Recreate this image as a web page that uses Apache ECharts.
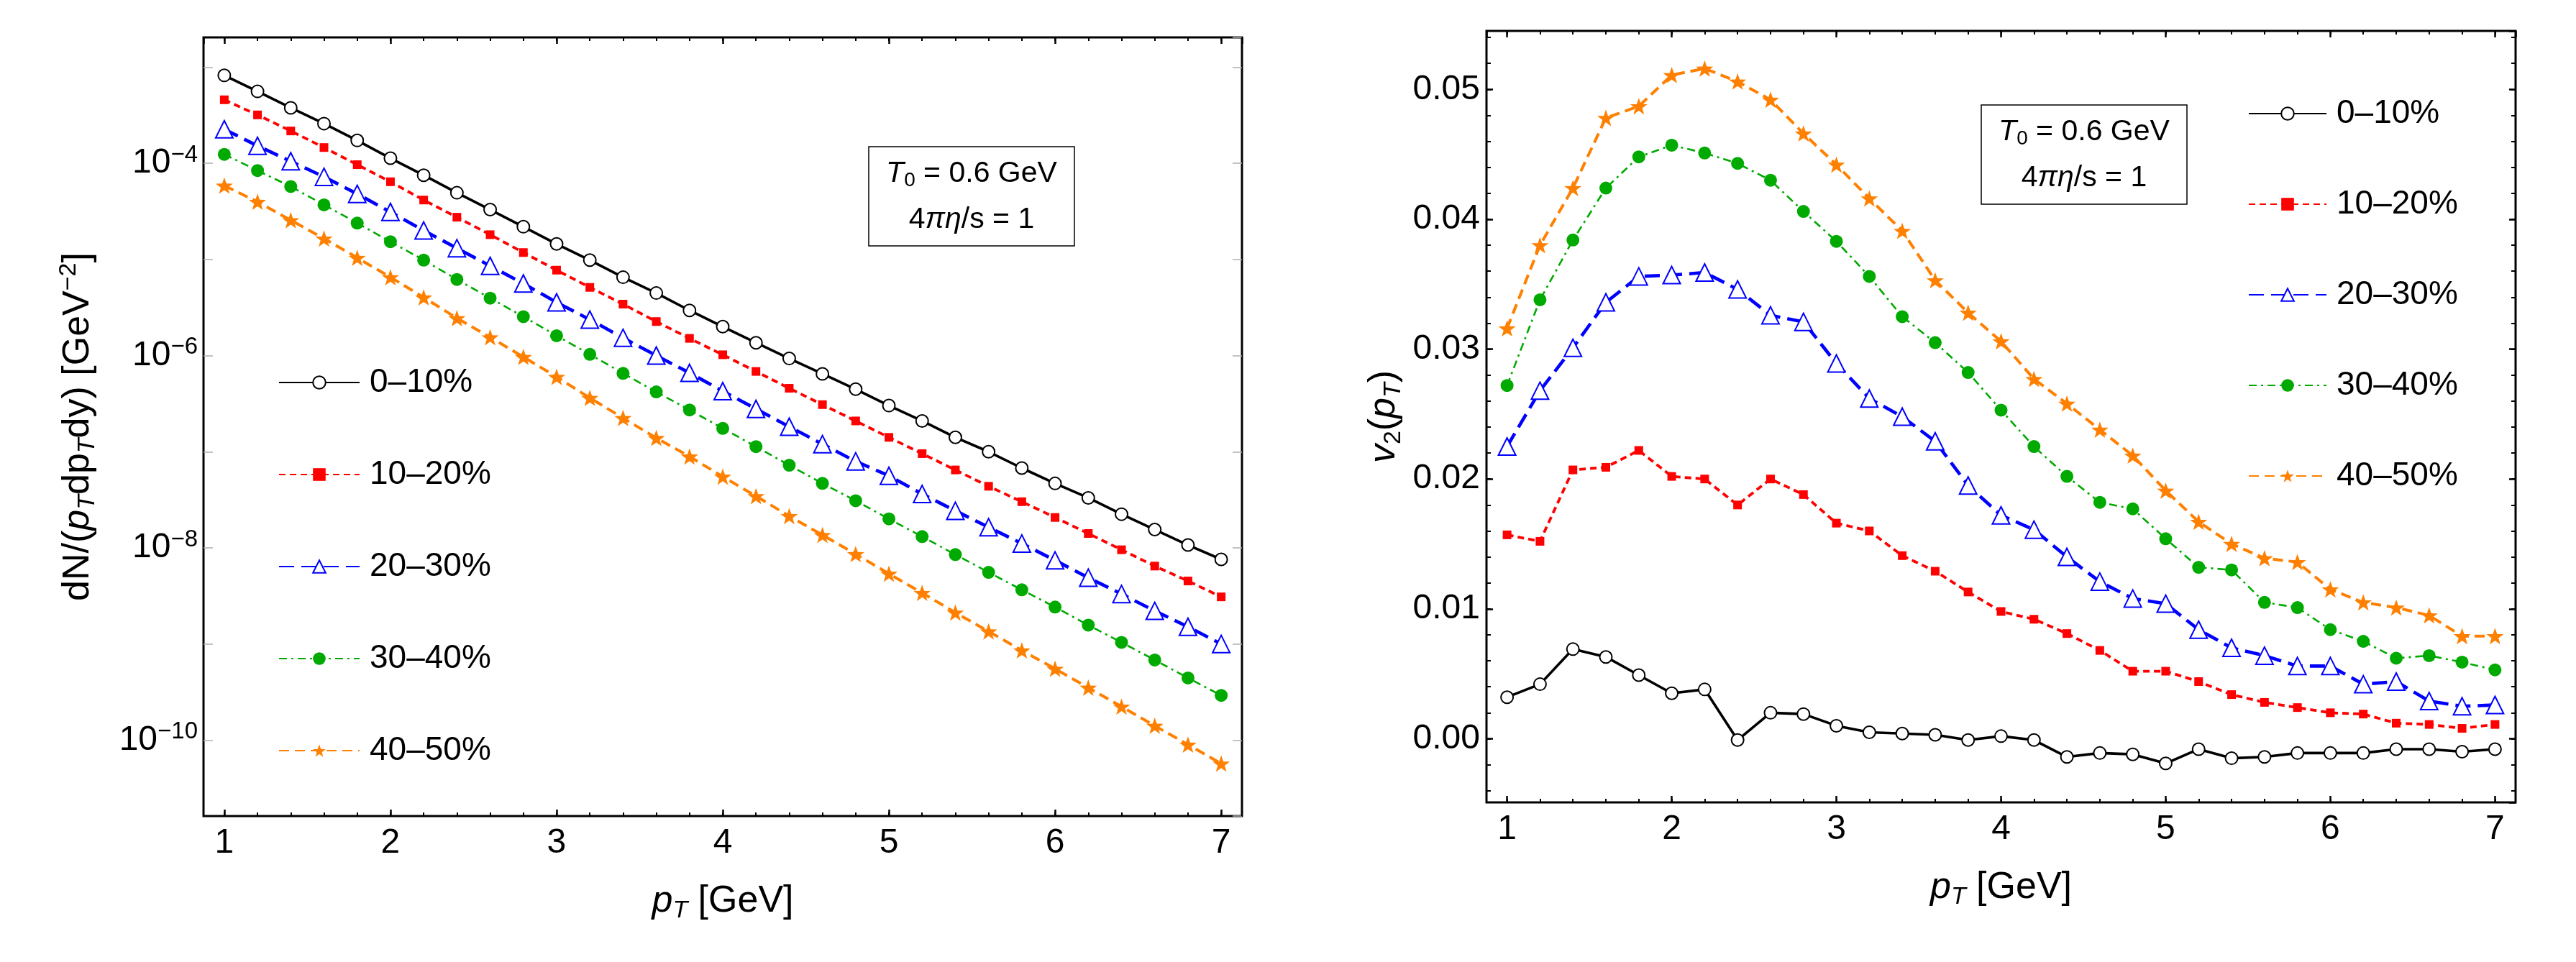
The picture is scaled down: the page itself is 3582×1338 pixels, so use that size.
<!DOCTYPE html>
<html>
<head>
<meta charset="utf-8">
<script src="https://cdn.jsdelivr.net/npm/echarts@6/dist/echarts.min.js"></script>
<style>
  html, body { margin: 0; padding: 0; background: #fff; }
  #chart { width: 3582px; height: 1338px; }
</style>
</head>
<body>
<div id="chart"></div>
<script>
const pT = [1.0, 1.2, 1.4, 1.6, 1.8, 2.0, 2.2, 2.4, 2.6, 2.8, 3.0, 3.2, 3.4, 3.6, 3.8, 4.0,
  4.2, 4.4, 4.6, 4.8, 5.0, 5.2, 5.4, 5.6, 5.8, 6.0, 6.2, 6.4, 6.6, 6.8, 7.0]

const centralities = ['0–10%', '10–20%', '20–30%', '30–40%', '40–50%']

// dN/(pT dpT dy) [GeV^-2]
const spec0_10 = [8.22e-4, 5.60e-4, 3.78e-4, 2.59e-4, 1.73e-4, 1.13e-4, 7.52e-5, 4.94e-5, 3.30e-5, 2.19e-5,
  1.45e-5, 9.84e-6, 6.53e-6, 4.47e-6, 2.95e-6, 2.00e-6, 1.36e-6, 9.33e-7, 6.46e-7, 4.47e-7,
  3.02e-7, 2.09e-7, 1.41e-7, 1.00e-7, 6.76e-8, 4.68e-8, 3.31e-8, 2.24e-8, 1.55e-8, 1.07e-8, 7.59e-9]
const spec10_20 = [4.58e-4, 3.19e-4, 2.17e-4, 1.46e-4, 9.68e-5, 6.43e-5, 4.15e-5, 2.75e-5, 1.81e-5, 1.18e-5,
  7.74e-6, 5.12e-6, 3.43e-6, 2.26e-6, 1.51e-6, 1.02e-6, 6.84e-7, 4.57e-7, 3.09e-7, 2.09e-7,
  1.41e-7, 9.55e-8, 6.46e-8, 4.37e-8, 3.02e-8, 2.07e-8, 1.41e-8, 9.55e-9, 6.46e-9, 4.52e-9, 3.09e-9]
const spec20_30 = [2.26e-4, 1.52e-4, 1.05e-4, 7.24e-5, 4.81e-5, 3.12e-5, 2.00e-5, 1.31e-5, 8.57e-6, 5.62e-6,
  3.58e-6, 2.37e-6, 1.53e-6, 1.00e-6, 6.61e-7, 4.27e-7, 2.79e-7, 1.82e-7, 1.20e-7, 7.94e-8,
  5.62e-8, 3.63e-8, 2.43e-8, 1.64e-8, 1.11e-8, 7.41e-9, 4.90e-9, 3.31e-9, 2.21e-9, 1.51e-9, 1.00e-9]
const spec30_40 = [1.24e-4, 8.41e-5, 5.73e-5, 3.70e-5, 2.39e-5, 1.53e-5, 9.84e-6, 6.19e-6, 3.96e-6, 2.54e-6,
  1.61e-6, 1.03e-6, 6.53e-7, 4.19e-7, 2.72e-7, 1.75e-7, 1.13e-7, 7.24e-8, 4.68e-8, 3.09e-8,
  2.00e-8, 1.31e-8, 8.51e-9, 5.56e-9, 3.66e-9, 2.42e-9, 1.57e-9, 1.04e-9, 6.82e-10, 4.43e-10, 2.92e-10]
const spec40_50 = [5.86e-5, 3.98e-5, 2.56e-5, 1.65e-5, 1.04e-5, 6.53e-6, 4.03e-6, 2.45e-6, 1.55e-6, 9.68e-7,
  6.00e-7, 3.63e-7, 2.24e-7, 1.39e-7, 8.91e-8, 5.50e-8, 3.45e-8, 2.14e-8, 1.36e-8, 8.61e-9,
  5.38e-9, 3.40e-9, 2.12e-9, 1.35e-9, 8.57e-10, 5.52e-10, 3.51e-10, 2.23e-10, 1.41e-10, 8.97e-11, 5.70e-11]

// v2(pT)
const v2_0_10 = [0.0032, 0.0042, 0.0069, 0.0063, 0.0049, 0.0035, 0.0038, -0.0001, 0.0020, 0.0019,
  0.0010, 0.0005, 0.0004, 0.0003, -0.0001, 0.0002, -0.0001, -0.0014, -0.0011, -0.0012,
  -0.0019, -0.0008, -0.0015, -0.0014, -0.0011, -0.0011, -0.0011, -0.0008, -0.0008, -0.0010, -0.0008]
const v2_10_20 = [0.0157, 0.0152, 0.0207, 0.0209, 0.0222, 0.0202, 0.0200, 0.0180, 0.0200, 0.0188,
  0.0166, 0.0160, 0.0141, 0.0129, 0.0113, 0.0098, 0.0092, 0.0081, 0.0068, 0.0052,
  0.0052, 0.0044, 0.0034, 0.0028, 0.0024, 0.0020, 0.0019, 0.0012, 0.0011, 0.0008, 0.0011]
const v2_20_30 = [0.0225, 0.0268, 0.0301, 0.0336, 0.0356, 0.0357, 0.0359, 0.0346, 0.0326, 0.0321,
  0.0289, 0.0262, 0.0248, 0.0229, 0.0195, 0.0172, 0.0161, 0.0140, 0.0121, 0.0108,
  0.0104, 0.0084, 0.0070, 0.0064, 0.0056, 0.0056, 0.0042, 0.0044, 0.0029, 0.0025, 0.0026]
const v2_30_40 = [0.0272, 0.0338, 0.0384, 0.0424, 0.0448, 0.0457, 0.0451, 0.0443, 0.0430, 0.0406,
  0.0383, 0.0356, 0.0325, 0.0305, 0.0282, 0.0253, 0.0225, 0.0202, 0.0182, 0.0177,
  0.0154, 0.0132, 0.0130, 0.0105, 0.0101, 0.0084, 0.0075, 0.0062, 0.0064, 0.0059, 0.0053]
const v2_40_50 = [0.0316, 0.0380, 0.0424, 0.0478, 0.0487, 0.0511, 0.0516, 0.0506, 0.0492, 0.0466,
  0.0442, 0.0416, 0.0391, 0.0353, 0.0328, 0.0306, 0.0277, 0.0258, 0.0238, 0.0218,
  0.0191, 0.0167, 0.0150, 0.0139, 0.0136, 0.0115, 0.0105, 0.0101, 0.0095, 0.0079, 0.0079]

const spectra = [spec0_10, spec10_20, spec20_30, spec30_40, spec40_50]
const flows = [v2_0_10, v2_10_20, v2_20_30, v2_30_40, v2_40_50]

const FONT = 'Liberation Sans, Arial, sans-serif'
const STAR = 'path://M50,0L61.76,33.82L97.55,34.55L69.02,56.18L79.39,90.45L50,70L20.61,90.45L30.98,56.18L2.45,34.55L38.24,33.82Z'

const looks = [
  { color: '#000000', symbol: 'emptyCircle', size: 17, border: 1.5, width: 3.6, dash: 'solid' },
  { color: '#ff0000', symbol: 'rect', size: 12, border: 0, width: 3.8, dash: [9, 6] },
  { color: '#0000ff', symbol: 'emptyTriangle', size: 24, border: 2.6, width: 4.6, dash: [21, 10] },
  { color: '#00aa00', symbol: 'circle', size: 18, border: 0, width: 2.6, dash: [11, 6, 3, 6] },
  { color: '#ff8000', symbol: STAR, size: 24, border: 0, width: 4, dash: [14, 8] }
]

const makeSeries = (values, i, xIdx, yIdx) => {
  const s = looks[i]
  return {
    type: 'line',
    name: centralities[i],
    xAxisIndex: xIdx,
    yAxisIndex: yIdx,
    data: pT.map((x, k) => [x, values[k]]),
    symbol: s.symbol,
    symbolSize: s.size,
    symbolKeepAspect: true,
    showAllSymbol: true,
    lineStyle: { color: s.color, width: s.width, type: s.dash },
    itemStyle: { color: s.color, borderColor: s.color, borderWidth: s.border },
    emphasis: { disabled: true },
    z: 2 + i
  }
}

const titleStyle = {
  fontSize: 52, fontFamily: FONT, color: '#000', lineHeight: 60,
  rich: {
    i: { fontSize: 52, fontFamily: FONT, fontStyle: 'italic', lineHeight: 60 },
    sub: { fontSize: 34, fontFamily: FONT, fontStyle: 'italic', lineHeight: 34, verticalAlign: 'bottom' },
    subr: { fontSize: 34, fontFamily: FONT, lineHeight: 34, verticalAlign: 'bottom' },
    sup: { fontSize: 34, fontFamily: FONT, lineHeight: 34, verticalAlign: 'top' }
  }
}

const X_MIN = 0.875
const X_MAX = 7.125
const noLine = { show: false, onZero: false }

// four x axes per panel: bottom/top, major/minor ticks
const xAxesFor = (grid) => {
  const base = {
    type: 'value', gridIndex: grid, min: X_MIN, max: X_MAX,
    axisLine: noLine, splitLine: { show: false }
  }
  const major = { inside: true, length: 9, lineStyle: { color: '#000', width: 2.5 } }
  const minor = { inside: true, length: 5, lineStyle: { color: '#000', width: 2 } }
  return [
    {
      ...base, position: 'bottom', axisTick: major,
      axisLabel: { fontSize: 48, fontFamily: FONT, color: '#000', margin: 14, showMinLabel: false, showMaxLabel: false },
      name: '{i|p}{sub|T} [GeV]', nameLocation: 'middle', nameGap: 89, nameTextStyle: titleStyle
    },
    { ...base, position: 'bottom', splitNumber: 30, axisTick: minor, axisLabel: { show: false } },
    { ...base, position: 'top', axisTick: major, axisLabel: { show: false } },
    { ...base, position: 'top', splitNumber: 30, axisTick: minor, axisLabel: { show: false } }
  ]
}

const LOG_MIN = Math.pow(10, -10.79)
const LOG_MAX = Math.pow(10, -2.69)
const logBase = {
  type: 'log', gridIndex: 0, min: LOG_MIN, max: LOG_MAX,
  axisLine: noLine, splitLine: { show: false },
  axisTick: { inside: true, length: 13, lineStyle: { color: '#b0b0b0', width: 1.5 } }
}

const V_MIN = -0.0049
const V_MAX = 0.0545
const vBase = {
  type: 'value', gridIndex: 1, min: V_MIN, max: V_MAX,
  axisLine: noLine, splitLine: { show: false }
}
const vMajor = { inside: true, length: 9, lineStyle: { color: '#000', width: 2.5 } }
const vMinor = { inside: true, length: 6, lineStyle: { color: '#000', width: 2 } }

const legendFor = (left, top, width, gap) => ({
  orient: 'vertical', left, top, padding: 0,
  itemWidth: width, itemHeight: 22, itemGap: gap,
  selectedMode: false,
  data: centralities,
  textStyle: { fontSize: 46, fontFamily: FONT, color: '#000', lineHeight: 48, padding: [0, 0, 0, 9] }
})

const infoBox = (x, y) => ({
  type: 'group', x, y,
  children: [
    { type: 'rect', shape: { x: 0, y: 0, width: 286, height: 138 }, style: { fill: '#fff', stroke: '#000', lineWidth: 1.5 } },
    {
      type: 'text', x: 143, y: 38,
      style: {
        text: '{i|T}{sub|0} = 0.6 GeV', align: 'center', verticalAlign: 'middle',
        fontSize: 41, fontFamily: FONT, fill: '#000', lineHeight: 46,
        rich: {
          i: { fontSize: 41, fontFamily: FONT, fontStyle: 'italic', lineHeight: 46 },
          sub: { fontSize: 28, fontFamily: FONT, lineHeight: 28, verticalAlign: 'bottom' }
        }
      }
    },
    {
      type: 'text', x: 143, y: 102,
      style: {
        text: '4{i|πη}/s = 1', align: 'center', verticalAlign: 'middle',
        fontSize: 41, fontFamily: FONT, fill: '#000', lineHeight: 46,
        rich: { i: { fontSize: 41, fontFamily: FONT, fontStyle: 'italic', lineHeight: 46 } }
      }
    }
  ]
})

const chart = echarts.init(document.getElementById('chart'), null, { renderer: 'canvas' })

chart.setOption({
  animation: false,
  backgroundColor: '#fff',
  textStyle: { fontFamily: FONT },
  grid: [
    { left: 283, top: 52, width: 1444, height: 1083, show: true, borderColor: '#000', borderWidth: 3, backgroundColor: 'transparent' },
    { left: 2067, top: 43, width: 1431, height: 1073, show: true, borderColor: '#000', borderWidth: 3, backgroundColor: 'transparent' }
  ],
  xAxis: [...xAxesFor(0), ...xAxesFor(1)],
  yAxis: [
    {
      ...logBase, position: 'left',
      axisLabel: {
        margin: 8, showMinLabel: false, showMaxLabel: false,
        formatter: (v) => {
          const e = Math.round(Math.log10(v))
          return e % 2 === 0 ? '{b|10}{s|−' + (-e) + '}' : ''
        },
        rich: {
          b: { fontSize: 48, fontFamily: FONT, color: '#000', lineHeight: 56 },
          s: { fontSize: 33, fontFamily: FONT, color: '#000', lineHeight: 33, verticalAlign: 'top' }
        }
      },
      name: 'dN/({i|p}{sub|T}dp{sub|T}dy) [GeV{sup|−2}]',
      nameLocation: 'middle', nameRotate: 90, nameGap: 144, nameTextStyle: titleStyle
    },
    { ...logBase, position: 'right', axisLabel: { show: false } },
    {
      ...vBase, position: 'left', axisTick: vMajor,
      axisLabel: {
        fontSize: 48, fontFamily: FONT, color: '#000', margin: 9,
        showMinLabel: false, showMaxLabel: false,
        formatter: (v) => v.toFixed(2)
      },
      name: '{i|v}{subr|2}({i|p}{sub|T})',
      nameLocation: 'middle', nameRotate: 90, nameGap: 112, nameTextStyle: titleStyle
    },
    { ...vBase, position: 'left', splitNumber: 30, axisTick: vMinor, axisLabel: { show: false } },
    { ...vBase, position: 'right', axisTick: vMajor, axisLabel: { show: false } },
    { ...vBase, position: 'right', splitNumber: 30, axisTick: vMinor, axisLabel: { show: false } }
  ],
  legend: [
    legendFor(387, 508, 112, 80),
    legendFor(3126, 134, 108, 78)
  ],
  graphic: [infoBox(1208, 204), infoBox(2755, 146)],
  series: [
    ...spectra.map((vals, i) => makeSeries(vals, i, 0, 0)),
    ...flows.map((vals, i) => makeSeries(vals, i, 4, 2))
  ]
})
</script>
</body>
</html>
